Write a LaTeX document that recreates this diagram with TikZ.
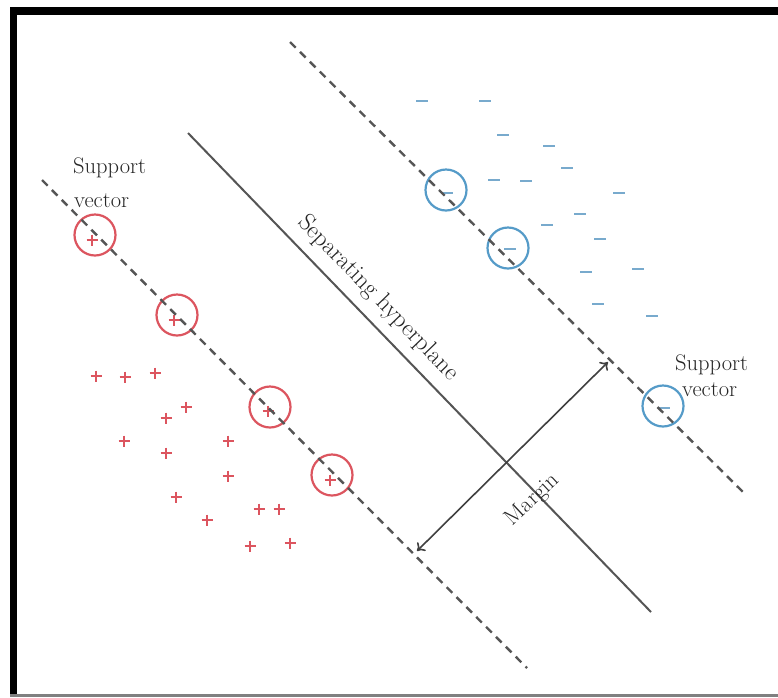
\documentclass[tikz,border=0pt]{standalone}
\usetikzlibrary{arrows.meta}
\definecolor{svred}{RGB}{220,85,95}
\definecolor{svblue}{RGB}{85,155,200}
\definecolor{minusblue}{RGB}{120,170,205}
\definecolor{linegray}{RGB}{85,85,85}
\tikzset{
  redcirc/.style={circle,draw=svred,line width=2.2pt,minimum size=41pt,inner sep=0pt},
  bluecirc/.style={circle,draw=svblue,line width=2.2pt,minimum size=41pt,inner sep=0pt},
  dashline/.style={draw=linegray,line width=2.4pt,dash pattern=on 8pt off 6pt},
  hyper/.style={draw=linegray,line width=2pt},
  marginarrow/.style={draw=black!75,line width=1.6pt,{To[length=7pt,width=12pt]}-{To[length=7pt,width=12pt]}},
  lbl/.style={font=\fontsize{22.5}{27}\selectfont,text=black!85,inner sep=0pt},
  pics/redplus/.style={code={\draw[svred,line width=1.8pt] (-5.5,0)--(5.5,0) (0,-5.5)--(0,5.5);}},
  pics/blueminus/.style={code={\draw[minusblue,line width=2.6pt] (-6,0)--(6,0);}},
}
\begin{document}
\begin{tikzpicture}[x=1pt,y=-1pt]
\useasboundingbox (0,0) rectangle (778,697);
% frame
\fill[black] (10,7) rectangle (778,15);
\fill[black] (10,7) rectangle (17,697);
\fill[gray] (10,694) rectangle (778,697);

% red pluses
\foreach \p in {(96,376),(125,377),(155,373),(186,407),(166,418),(124,441),(166,453),
  (228,441),(228,476),(176,497),(207,520),(259,509),(279,509),(250,546),(290,543),
  (92,240),(174,320),(268,411),(330,480)}
  \pic at \p {redplus};
% blue minuses
\foreach \p in {(422,101),(485,101),(503,135),(549,146),(567,168),(494,180),(526,181),
  (619,193),(580,214),(547,225),(600,239),(586,272),(638,269),(598,304),(652,316),
  (447,193),(510,249),(664,408)}
  \pic at \p {blueminus};

% support vector circles
\node[redcirc] (r1) at (95,235) {};
\node[redcirc] (r2) at (177,315) {};
\node[redcirc] (r3) at (270,407) {};
\node[redcirc] (r4) at (332,475) {};
\node[bluecirc] (b1) at (446,190) {};
\node[bluecirc] (b2) at (508,248) {};
\node[bluecirc] (b3) at (663,406) {};

% lines
\coordinate (u1) at (290,42);
\coordinate (u2) at (746,495);
\coordinate (l1) at (42,180);
\coordinate (l2) at (527,668);
\coordinate (h1) at (188,133);
\coordinate (h2) at (651,612);
\coordinate (m1) at (417,551);
\coordinate (m2) at (608,362);
\draw[dashline] (u1) -- (u2);
\draw[dashline] (l1) -- (l2);
\draw[hyper] (h1) -- (h2);
\draw[marginarrow] (m1) -- (m2);

% labels
\node[lbl,anchor=base west] (ls1) at (73,173) {Support};
\node[lbl,anchor=base west] (ls2) at (74,207) {vector};
\node[lbl,anchor=base west] (rs1) at (675,370) {Support};
\node[lbl,anchor=base west] (rs2) at (682,396) {vector};
\node[lbl,font=\fontsize{24.5}{29}\selectfont,rotate=-46] (sep) at (378,298) {Separating hyperplane};
\node[lbl,rotate=43] (mar) at (533,500) {Margin};
\end{tikzpicture}
\end{document}
